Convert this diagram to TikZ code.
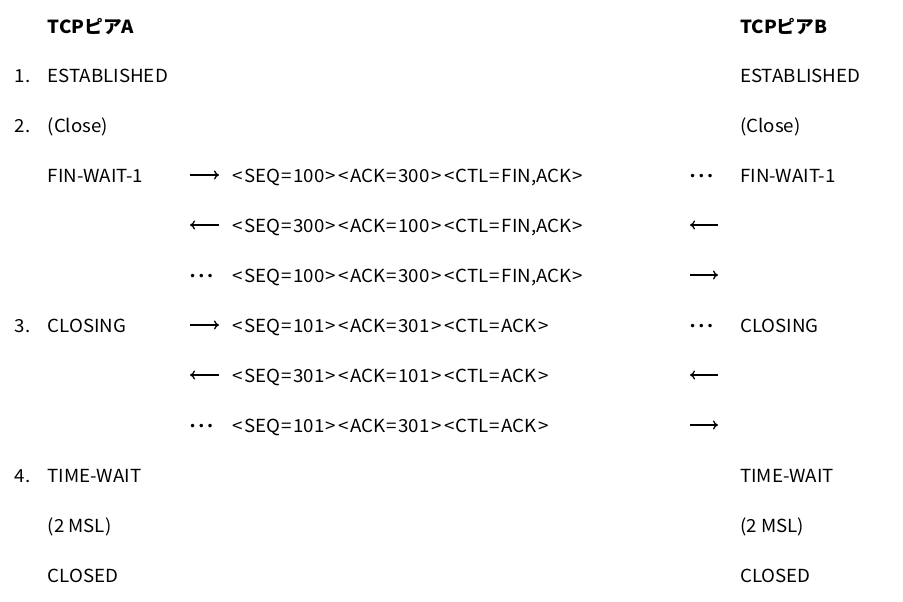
\documentclass[tikz,border=0pt]{standalone}
\usepackage{fontspec}
\setmainfont{Noto Sans CJK JP}[FakeStretch=1.04]
\newfontfamily\symfont{DejaVu Sans}
\usetikzlibrary{arrows.meta,positioning}
\definecolor{ink}{RGB}{0,0,0}
\tikzset{
  every picture/.style={color=ink, x=1pt, y=-1pt},
  txt/.style={anchor=west, inner sep=0pt, text height=13.2pt, text depth=0pt, font=\fontsize{18}{21}\selectfont},
  head/.style={txt, font=\fontsize{18}{21}\selectfont\bfseries},
  sym/.style={anchor=west, inner sep=0pt},
  fwd/.style={-{To[length=5pt,width=9pt]}, line width=1.3pt},
  bwd/.style={{To[length=5pt,width=9pt]}-, line width=1.3pt},
}
\newcommand{\dotsym}{{\symfont\fontsize{12}{12}\selectfont •\hspace{1.6pt}•\hspace{1.6pt}•}}
% wide brackets and equals, as in the segment lines
\newcommand{\widech}[1]{\kern1.3pt#1\kern1.3pt}
\newcommand{\seg}[3]{\widech{<}SEQ\widech{=}#1\widech{>}\widech{<}ACK\widech{=}#2\widech{>}\widech{<}CTL\widech{=}#3\widech{>}}

\begin{document}
\begin{tikzpicture}
  \useasboundingbox (0,0) rectangle (903,602);
  % peer A, numbered steps
  \node[head] (hA) at (47.5,27) {TCPピアA};
  \node[txt] (n1) at (14.5,76) {1.};
  \node[txt] (a1) at (47.5,76) {ESTABLISHED};
  \node[txt] (n2) at (14.5,126) {2.};
  \node[txt] (a2) at (47.5,126) {(Close)};
  \node[txt] (a3) at (47.5,176) {FIN-WAIT-1};
  \node[txt] (n3) at (14.5,326) {3.};
  \node[txt] (a4) at (47.5,326) {CLOSING};
  \node[txt] (n4) at (14.5,476) {4.};
  \node[txt] (a5) at (47.5,476) {TIME-WAIT};
  \node[txt] (a6) at (47.5,526) {(2 MSL)};
  \node[txt] (a7) at (47.5,576) {CLOSED};
  % segments in flight
  \coordinate (l1) at (190,175);
  \coordinate (l2) at (190,225);
  \coordinate (l4) at (190,325);
  \coordinate (l5) at (190,375);
  \draw[fwd] (l1) -- ++(29,0);
  \draw[bwd] (l2) -- ++(29,0);
  \node[sym] (l3) at (189,277) {\dotsym};
  \draw[fwd] (l4) -- ++(29,0);
  \draw[bwd] (l5) -- ++(29,0);
  \node[sym] (l6) at (189,427) {\dotsym};
  \node[txt] (m1) at (231,176) {\seg{100}{300}{FIN,ACK}};
  \node[txt] (m2) at (231,226) {\seg{300}{100}{FIN,ACK}};
  \node[txt] (m3) at (231,276) {\seg{100}{300}{FIN,ACK}};
  \node[txt] (m4) at (231,326) {\seg{101}{301}{ACK}};
  \node[txt] (m5) at (231,376) {\seg{301}{101}{ACK}};
  \node[txt] (m6) at (231,426) {\seg{101}{301}{ACK}};
  \node[sym] (r1) at (689,177) {\dotsym};
  \coordinate (r2) at (690,225);
  \coordinate (r3) at (690,275);
  \node[sym] (r4) at (689,327) {\dotsym};
  \coordinate (r5) at (690,375);
  \coordinate (r6) at (690,425);
  \draw[bwd] (r2) -- ++(28,0);
  \draw[fwd] (r3) -- ++(28,0);
  \draw[bwd] (r5) -- ++(28,0);
  \draw[fwd] (r6) -- ++(28,0);
  % peer B
  \node[head] (hB) at (740,27) {TCPピアB};
  \node[txt] (b1) at (740,76) {ESTABLISHED};
  \node[txt] (b2) at (740,126) {(Close)};
  \node[txt] (b3) at (740,176) {FIN-WAIT-1};
  \node[txt] (b4) at (740,326) {CLOSING};
  \node[txt] (b5) at (740,476) {TIME-WAIT};
  \node[txt] (b6) at (740,526) {(2 MSL)};
  \node[txt] (b7) at (740,576) {CLOSED};
\end{tikzpicture}
\end{document}
